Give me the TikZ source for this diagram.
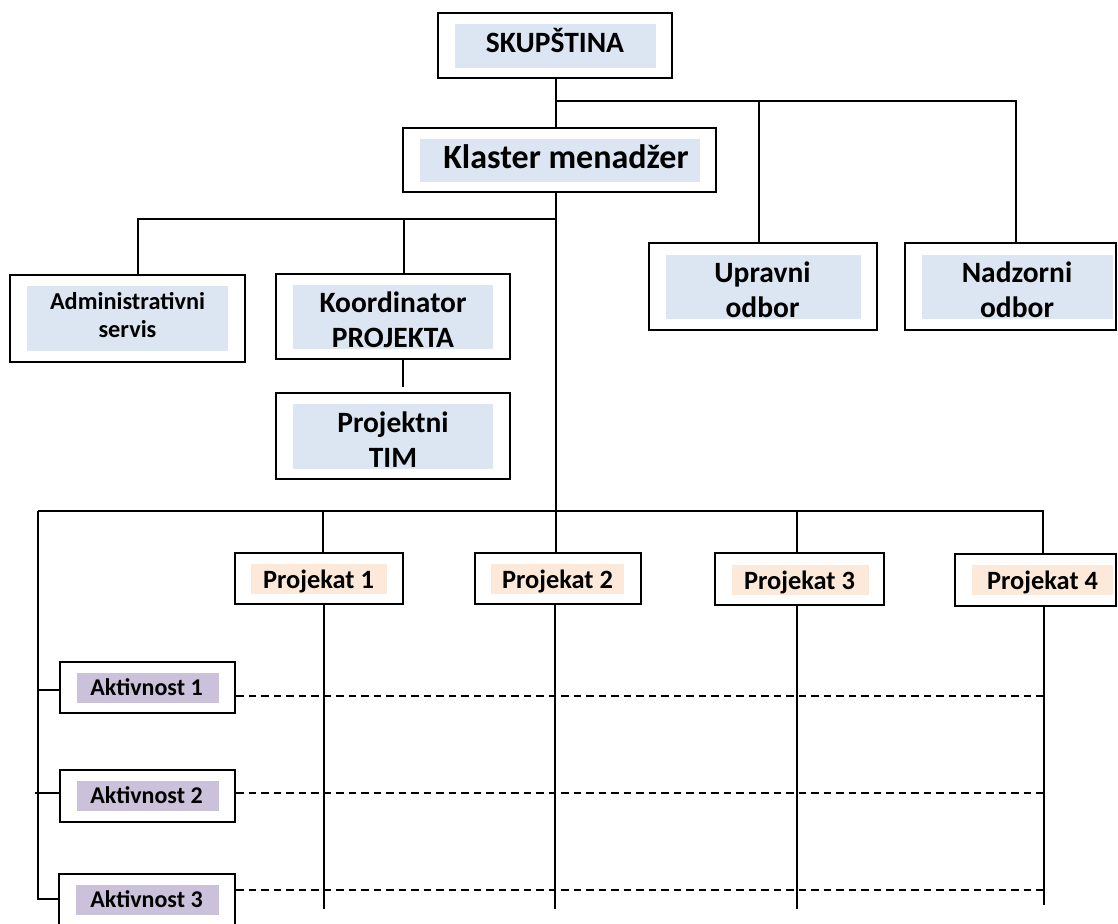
\documentclass[tikz,border=0pt]{standalone}
\usepackage{fontspec}
\setmainfont{Carlito}
\definecolor{boxblue}{RGB}{220,230,242}
\definecolor{boxpeach}{RGB}{253,233,217}
\definecolor{boxlilac}{RGB}{204,193,218}
\begin{document}
\begin{tikzpicture}[x=1pt,y=-1pt,
  frame/.style={draw=black, line width=2.2pt, inner sep=0pt},
  shadeblue/.style={fill=boxblue, draw=none, inner sep=0pt},
  shadepeach/.style={fill=boxpeach, draw=none, inner sep=0pt},
  shadelilac/.style={fill=boxlilac, draw=none, inner sep=0pt},
  label/.style={anchor=base, inner sep=0pt, align=center, text=black},
  link/.style={draw=black, line width=1.8pt},
  dashlink/.style={draw=black, line width=1.8pt, dash pattern=on 7.5pt off 5pt},
]
\path[use as bounding box] (0,0) rectangle (1118,923);
\clip (0,0) rectangle (1118,923);

% ---- shaded text areas ----
\node[shadeblue, minimum width=201pt, minimum height=44pt] (skf) at (555.5,46) {};
\node[shadeblue, minimum width=280pt, minimum height=43pt] (kmf) at (560,160.5) {};
\node[shadeblue, minimum width=195pt, minimum height=64pt] (uof) at (763.5,287) {};
\node[shadeblue, minimum width=191pt, minimum height=64pt] (nof) at (1017.5,287) {};
\node[shadeblue, minimum width=201pt, minimum height=65pt] (asf) at (127.5,318.5) {};
\node[shadeblue, minimum width=200pt, minimum height=64pt] (kof) at (393,317) {};
\node[shadeblue, minimum width=200pt, minimum height=65pt] (ptf) at (393,436.5) {};
\node[shadepeach, minimum width=136pt, minimum height=30pt] (p1f) at (319,579) {};
\node[shadepeach, minimum width=133pt, minimum height=30pt] (p2f) at (557.5,579) {};
\node[shadepeach, minimum width=137pt, minimum height=30pt] (p3f) at (800.5,580) {};
\node[shadepeach, minimum width=141pt, minimum height=30pt] (p4f) at (1042.5,580) {};
\node[shadelilac, minimum width=142pt, minimum height=30pt] (a1f) at (148,688) {};
\node[shadelilac, minimum width=142pt, minimum height=30pt] (a2f) at (148,796) {};
\node[shadelilac, minimum width=143pt, minimum height=30pt] (a3f) at (147.5,900) {};

% ---- frames ----
\node[frame, minimum width=234pt, minimum height=65pt] (sk) at (555,45.5) {};
\node[frame, minimum width=313pt, minimum height=64pt] (km) at (559.5,160) {};
\node[frame, minimum width=228pt, minimum height=87pt] (uo) at (763,286.5) {};
\node[frame, minimum width=211pt, minimum height=87pt] (no) at (1010.5,286.5) {};
\node[frame, minimum width=235pt, minimum height=87pt] (as) at (127.5,318.5) {};
\node[frame, minimum width=234pt, minimum height=85pt] (ko) at (393,316.5) {};
\node[frame, minimum width=234pt, minimum height=86pt] (pt) at (393,436) {};
\node[frame, minimum width=168pt, minimum height=51pt] (p1) at (319,578.5) {};
\node[frame, minimum width=166pt, minimum height=51pt] (p2) at (558,578.5) {};
\node[frame, minimum width=169pt, minimum height=52pt] (p3) at (799.5,579) {};
\node[frame, minimum width=161pt, minimum height=52pt] (p4) at (1035.5,580) {};
\node[frame, minimum width=175pt, minimum height=51pt] (a1) at (147.5,687.5) {};
\node[frame, minimum width=175pt, minimum height=52pt] (a2) at (147.5,796) {};
\node[frame, minimum width=176pt, minimum height=56pt] (a3) at (147,902) {};

% ---- texts (base anchor = baseline of the last line) ----
\node[label, font=\fontsize{29.5pt}{35pt}\selectfont\bfseries] (skt) at (555,53) {SKUPŠTINA};
\node[label, font=\fontsize{34pt}{40pt}\selectfont\bfseries] (kmt) at (566,168) {Klaster menadžer};
\node[label, font=\fontsize{29.5pt}{35pt}\selectfont\bfseries] (uot) at (762.5,317) {Upravni\\odbor};
\node[label, font=\fontsize{29.5pt}{35pt}\selectfont\bfseries] (not) at (1017,317) {Nadzorni\\odbor};
\node[label, font=\fontsize{24.3pt}{28pt}\selectfont\bfseries] (ast) at (127.5,337) {Administrativni\\servis};
\node[label, font=\fontsize{29.5pt}{35pt}\selectfont\bfseries] (kot) at (393,347) {Koordinator\\PROJEKTA};
\node[label, font=\fontsize{29.5pt}{35pt}\selectfont\bfseries] (ptt) at (393,467) {Projektni\\TIM};
\node[label, font=\fontsize{26.4pt}{30pt}\selectfont\bfseries] (p1t) at (318.5,588) {Projekat 1};
\node[label, font=\fontsize{26.4pt}{30pt}\selectfont\bfseries] (p2t) at (557.5,588) {Projekat 2};
\node[label, font=\fontsize{26.4pt}{30pt}\selectfont\bfseries] (p3t) at (799.5,589) {Projekat 3};
\node[label, font=\fontsize{26.4pt}{30pt}\selectfont\bfseries] (p4t) at (1042.5,589) {Projekat 4};
\node[label, font=\fontsize{24pt}{28pt}\selectfont\bfseries] (a1t) at (146.5,695) {Aktivnost 1};
\node[label, font=\fontsize{24pt}{28pt}\selectfont\bfseries] (a2t) at (146.5,803) {Aktivnost 2};
\node[label, font=\fontsize{24pt}{28pt}\selectfont\bfseries] (a3t) at (146.5,907) {Aktivnost 3};

% ---- junction points and line ends ----
\coordinate (b1) at (556,101);
\coordinate (b2) at (556,219);
\coordinate (b3) at (38,511);
\coordinate (e1) at (324,909);
\coordinate (e2) at (555,909);
\coordinate (e3) at (797,909);
\coordinate (e4) at (1044,905);

% ---- upper connectors ----
\draw[link] (sk.south -| b1) -- (b1 |- km.north);
\draw[link] (b1) -| ([xshift=5.5pt]no.north);
\draw[link] ([xshift=-4pt]uo.north) -- ([xshift=-4pt]uo.north |- b1);
\draw[link] (km.south -| b1) -- (b1 |- p2.north);
\draw[link] (b2) -| ([xshift=10.5pt]as.north);
\draw[link] ([xshift=11pt]ko.north) -- ([xshift=11pt]ko.north |- b2);
\draw[link, shorten >=5pt] ([xshift=10pt]ko.south) -- ([xshift=10pt]pt.north);

% ---- project bus ----
\draw[link] (b3) -| ([xshift=7.5pt]p4.north);
\draw[link] ([xshift=4pt]p1.north) -- ([xshift=4pt]p1.north |- b3);
\draw[link] ([xshift=-2.5pt]p3.north) -- ([xshift=-2.5pt]p3.north |- b3);
\draw[link] (b3) |- ([yshift=3pt]a3.west);
\draw[link] ([yshift=-2.5pt]a1.west) -- ([yshift=-2.5pt]a1.west -| b3);
\draw[link] ([yshift=3pt]a2.west) -- ([yshift=3pt,xshift=-24pt]a2.west);

% ---- project columns ----
\draw[link] (p1.south -| e1) -- (e1);
\draw[link] (p2.south -| e2) -- (e2);
\draw[link] (p3.south -| e3) -- (e3);
\draw[link] (p4.south -| e4) -- (e4);

% ---- activity rows ----
\draw[dashlink] ([yshift=-8.5pt]a1.east) -- ([yshift=-8.5pt]a1.east -| e4);
\draw[dashlink] ([yshift=3pt]a2.east) -- ([yshift=3pt]a2.east -| e4);
\draw[dashlink] ([yshift=12pt]a3.east) -- ([yshift=12pt]a3.east -| e4);
\end{tikzpicture}
\end{document}
